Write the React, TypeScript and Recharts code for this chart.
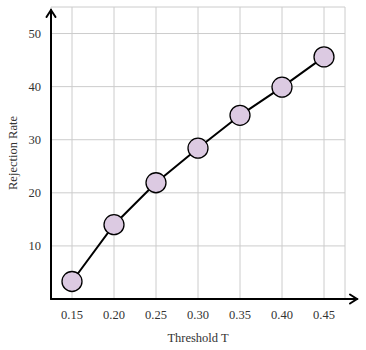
import React from "react";
import {
  LineChart,
  Line,
  XAxis,
  YAxis,
  CartesianGrid,
} from "recharts";

// ─── Data ─────────────────────────────────────────────────────────────────────
const thresholds = [0.15, 0.2, 0.25, 0.3, 0.35, 0.4, 0.45];
const rejectionRates = [3.3, 14.0, 21.9, 28.4, 34.6, 39.9, 45.6];
const xTicks = [0.15, 0.2, 0.25, 0.3, 0.35, 0.4, 0.45];
const yTicks = [10, 20, 30, 40, 50];

const data = thresholds.map((t, i) => ({ t, rate: rejectionRates[i] }));

// ─── Layout ───────────────────────────────────────────────────────────────────
const W = 366;
const H = 350;
const Y_AXIS_W = 51;
const X_AXIS_H = 51;
const TOP = 7;
const RIGHT = 21;

const FONT = "'Liberation Serif', 'DejaVu Serif', serif";
const tickStyle = { fill: "#333", fontSize: 12.5, fontFamily: FONT };

// axis arrows, drawn on top of the chart
function AxisArrows() {
  const x0 = Y_AXIS_W;
  const y0 = H - X_AXIS_H;
  return (
    <svg
      width={W}
      height={H}
      style={{ position: "absolute", left: 0, top: 0, pointerEvents: "none" }}
    >
      <g stroke="#000" strokeWidth={2} fill="none" strokeLinecap="round">
        <line x1={x0} y1={y0} x2={x0} y2={10} />
        <polyline points={`${x0 - 4.5},${17} ${x0},${10} ${x0 + 4.5},${17}`} />
        <line x1={x0} y1={y0} x2={357} y2={y0} />
        <polyline points={`${350},${y0 - 4.5} ${357},${y0} ${350},${y0 + 4.5}`} />
      </g>
    </svg>
  );
}

export default function App() {
  return (
    <div style={{ position: "absolute", left: 0, top: 0, width: W, height: H, background: "#fff" }}>
      <LineChart
        width={W}
        height={H}
        data={data}
        margin={{ top: TOP, right: RIGHT, left: 0, bottom: 0 }}
      >
        <CartesianGrid stroke="#cccccc" strokeWidth={1} />
        <XAxis
          dataKey="t"
          type="number"
          domain={[0.125, 0.475]}
          ticks={xTicks}
          tickFormatter={(v: number) => v.toFixed(2)}
          axisLine={false}
          tickLine={false}
          tickSize={0}
          tickMargin={11}
          height={X_AXIS_H}
          tick={tickStyle}
          label={{
            value: "Threshold T",
            position: "insideBottom",
            offset: 8,
            style: { fill: "#333", fontSize: 12.5, fontFamily: FONT },
          }}
        />
        <YAxis
          type="number"
          domain={[0, 55]}
          ticks={yTicks}
          axisLine={false}
          tickLine={false}
          tickSize={0}
          tickMargin={10}
          width={Y_AXIS_W}
          tick={tickStyle}
          label={{
            value: "Rejection Rate",
            angle: -90,
            position: "insideLeft",
            offset: 13,
            style: { fill: "#333", fontSize: 12.5, fontFamily: FONT, textAnchor: "middle" },
          }}
        />
        <Line
          dataKey="rate"
          type="linear"
          stroke="#000"
          strokeWidth={2}
          dot={{ r: 10, fill: "#dccae2", stroke: "#000", strokeWidth: 1.3 }}
          isAnimationActive={false}
        />
      </LineChart>
      <AxisArrows />
    </div>
  );
}
